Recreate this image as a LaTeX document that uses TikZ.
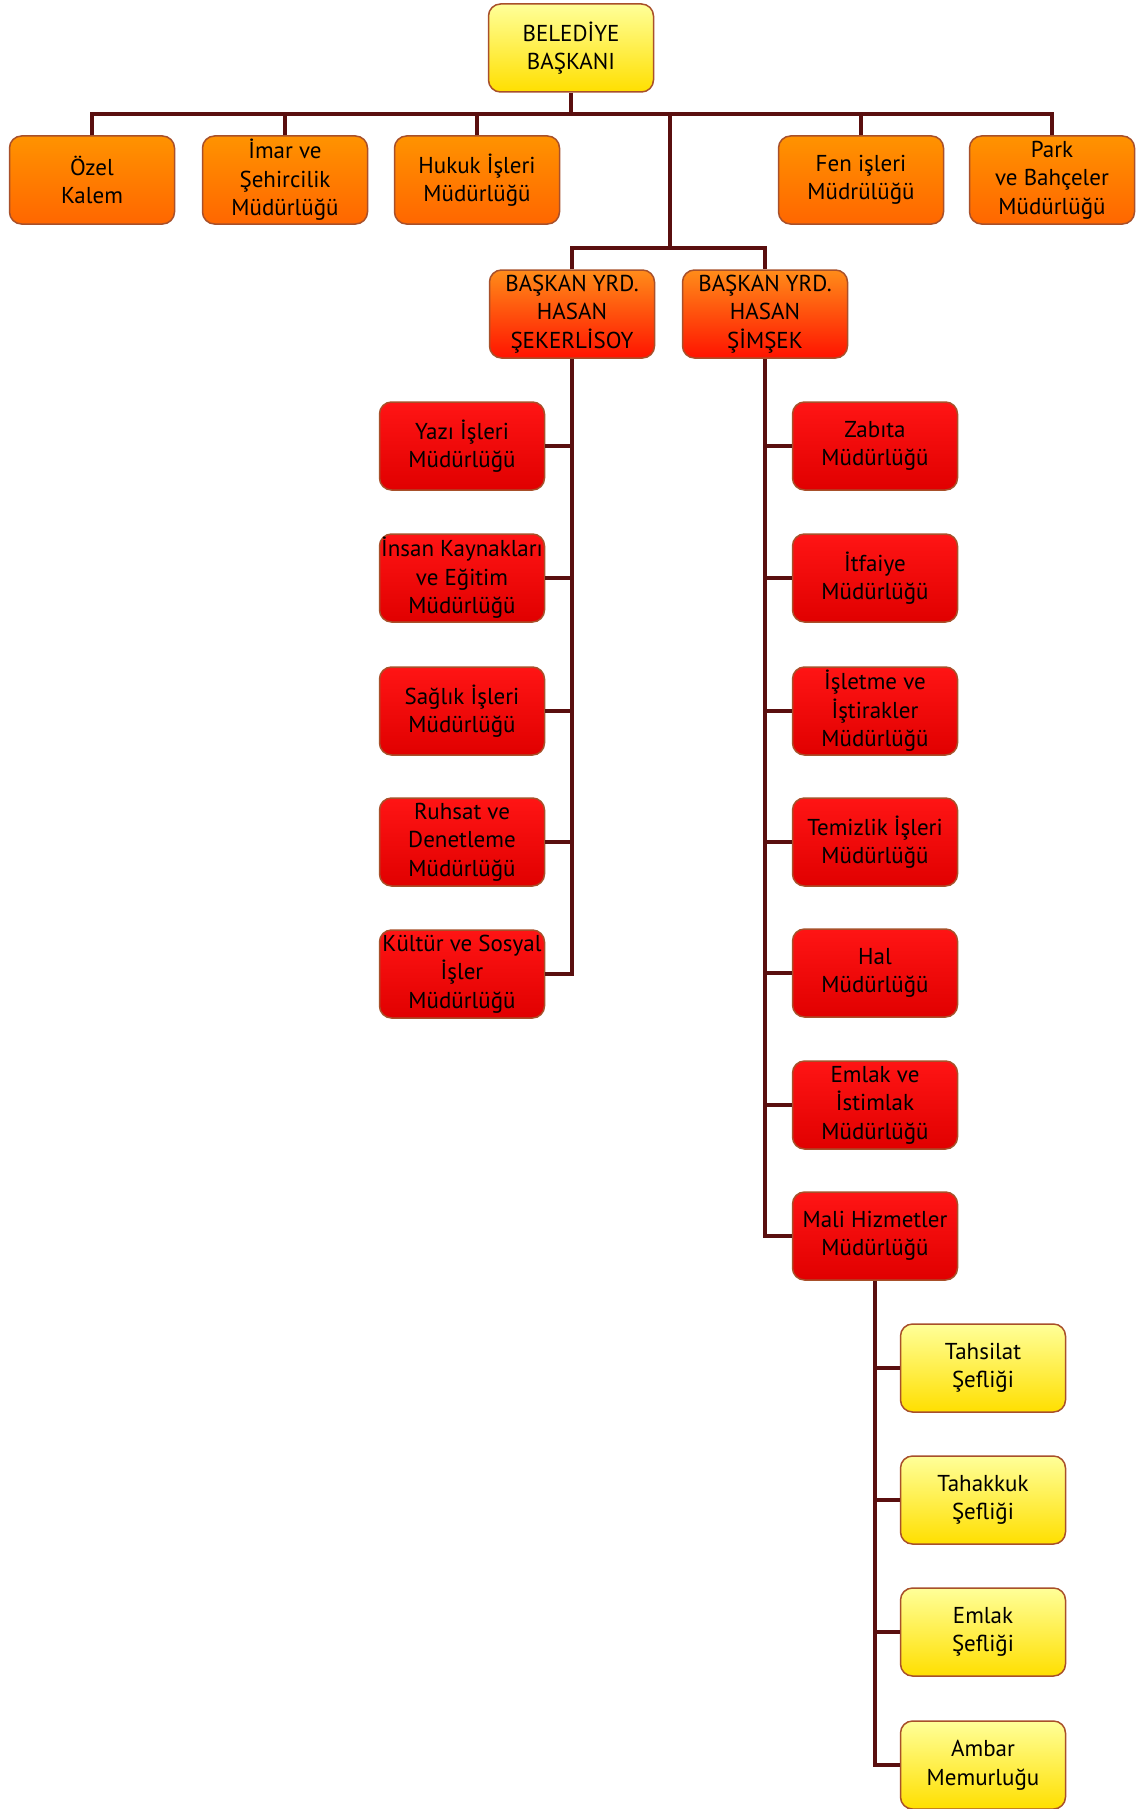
\documentclass[tikz,border=0pt]{standalone}
\usepackage{fontspec}
\setmainfont{PT Sans}
\usepackage{tikz}
\usepackage{xcolor}

\definecolor{linkred}{HTML}{5A0F0F}
\definecolor{boxedge}{HTML}{A8502A}

\begin{document}
\begin{tikzpicture}[
  x=1pt, y=-1pt,
  box/.style={draw=boxedge, line width=1.5pt, rounded corners=12pt,
    minimum width=165pt, minimum height=88pt, align=center,
    font=\fontsize{23}{28.5}\selectfont, inner sep=1pt},
  yellowbox/.style={box, top color=yellow!40, bottom color=yellow!75!orange},
  orangebox/.style={box, top color=orange!85!yellow, bottom color=orange!80!red},
  deputybox/.style={box, top color=orange!90, bottom color=red!85!orange},
  redbox/.style={box, top color=red!92!white, bottom color=red!88!black},
  link/.style={linkred, line width=4pt}
  ]

  \useasboundingbox (0,0) rectangle (1136,1809);

  \node[yellowbox] (boss) at (571,48) {BELEDİYE\\BAŞKANI};

  \node[orangebox] (ozel)  at (92,180)   {Özel\\Kalem};
  \node[orangebox] (imar)  at (285,180)  {İmar ve\\Şehircilik\\Müdürlüğü};
  \node[orangebox] (hukuk) at (477,180)  {Hukuk İşleri\\Müdürlüğü};
  \node[orangebox] (fen)   at (861,180)  {Fen işleri\\Müdrülüğü};
  \node[orangebox] (park)  at (1052,180) {Park\\ve Bahçeler\\Müdürlüğü};

  \node[deputybox] (yrd1) at (572,314) {BAŞKAN YRD.\\HASAN\\ŞEKERLİSOY};
  \node[deputybox] (yrd2) at (765,314) {BAŞKAN YRD.\\HASAN\\ŞİMŞEK};

  \node[redbox] (yazi)   at (462,446) {Yazı İşleri\\Müdürlüğü};
  \node[redbox] (insan)  at (462,578) {İnsan Kaynakları\\ve Eğitim\\Müdürlüğü};
  \node[redbox] (saglik) at (462,711) {Sağlık İşleri\\Müdürlüğü};
  \node[redbox] (ruhsat) at (462,842) {Ruhsat ve\\Denetleme\\Müdürlüğü};
  \node[redbox] (kultur) at (462,974) {Kültür ve Sosyal\\İşler\\Müdürlüğü};

  \node[redbox] (zabita)   at (875,446)  {Zabıta\\Müdürlüğü};
  \node[redbox] (itfaiye)  at (875,578)  {İtfaiye\\Müdürlüğü};
  \node[redbox] (isletme)  at (875,711)  {İşletme ve\\İştirakler\\Müdürlüğü};
  \node[redbox] (temizlik) at (875,842)  {Temizlik İşleri\\Müdürlüğü};
  \node[redbox] (hal)      at (875,973)  {Hal\\Müdürlüğü};
  \node[redbox] (emlak)    at (875,1105) {Emlak ve\\İstimlak\\Müdürlüğü};
  \node[redbox] (mali)     at (875,1236) {Mali Hizmetler\\Müdürlüğü};

  \node[yellowbox] (tahsilat) at (983,1368) {Tahsilat\\Şefliği};
  \node[yellowbox] (tahakkuk) at (983,1500) {Tahakkuk\\Şefliği};
  \node[yellowbox] (emlaksef) at (983,1632) {Emlak\\Şefliği};
  \node[yellowbox] (ambar)    at (983,1765) {Ambar\\Memurluğu};

  \coordinate (bus)  at (670,114);
  \coordinate (bus2) at (670,248);

  % top level
  \draw[link] (boss.south) -- (boss.south |- bus);
  \draw[link] (ozel.north) -- (ozel.north |- bus) -- (park.north |- bus) -- (park.north);
  \foreach \n in {imar,hukuk,fen}
    \draw[link] (\n.north) -- (\n.north |- bus);
  \draw[link] (bus) -- (bus2);
  \draw[link] (yrd1.north) -- (yrd1.north |- bus2) -- (yrd2.north |- bus2) -- (yrd2.north);

  % deputies
  \draw[link] (yrd1.south) -- (yrd1.south |- kultur.east) -- (kultur.east);
  \foreach \n in {yazi,insan,saglik,ruhsat}
    \draw[link] (\n.east) -- (\n.east -| yrd1.south);
  \draw[link] (yrd2.south) -- (yrd2.south |- mali.west) -- (mali.west);
  \foreach \n in {zabita,itfaiye,isletme,temizlik,hal,emlak}
    \draw[link] (\n.west) -- (\n.west -| yrd2.south);

  % mali hizmetler
  \draw[link] (mali.south) -- (mali.south |- ambar.west) -- (ambar.west);
  \foreach \n in {tahsilat,tahakkuk,emlaksef}
    \draw[link] (\n.west) -- (\n.west -| mali.south);
\end{tikzpicture}
\end{document}
